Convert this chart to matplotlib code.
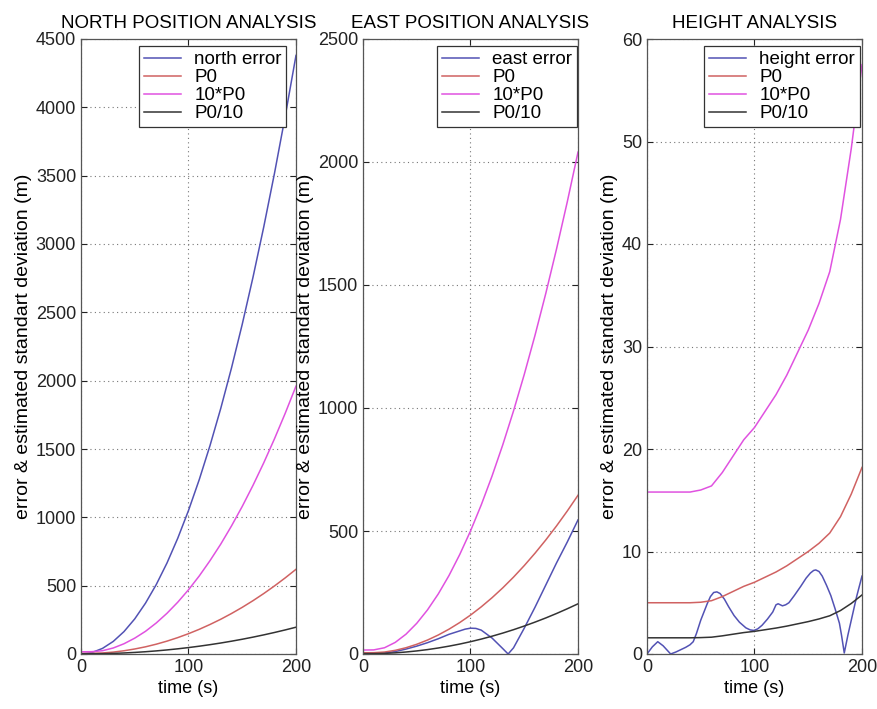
import numpy as np
import matplotlib
matplotlib.use("Agg")
import matplotlib.pyplot as plt

# time axis (s)
t = [0, 10, 20, 30, 40, 50, 60, 70, 80, 90, 100, 110, 120, 130, 140, 150, 160, 170, 180, 190, 200]

# north position
north_err = [0, 10, 41, 92, 164, 257, 372, 508, 666, 847, 1050, 1276, 1525, 1797, 2093, 2413, 2757, 3125, 3518, 3937, 4380]
north_p0 = [5.0, 5.3, 7.6, 13.9, 23.7, 36.7, 52.5, 71.8, 94.2, 119.9, 148.6, 180.6, 216.0, 254.3, 296.3, 341.5, 390.2, 442.4, 498.1, 557.2, 619.8]
north_10p0 = [16, 17, 24, 44, 75, 116, 166, 227, 298, 379, 470, 571, 683, 804, 937, 1080, 1234, 1399, 1575, 1762, 1960]
north_p0_10 = [1.6, 1.7, 2.4, 4.4, 7.5, 11.6, 16.6, 22.7, 29.8, 37.9, 47.0, 57.1, 68.3, 80.4, 93.7, 108.0, 123.4, 139.9, 157.5, 176.2, 196.0]

# east position
east_p0 = [5.1, 5.3, 8.0, 14.9, 25.5, 39.5, 56.7, 77.2, 100.9, 127.9, 158.1, 191.7, 228.6, 268.8, 312.4, 359.4, 409.7, 463.4, 520.5, 581.1, 645.2]
east_10p0 = [16, 16.7, 25.4, 47.2, 80.6, 124.8, 179.3, 244, 319, 404.5, 500, 606.2, 722.9, 850.1, 987.8, 1136.3, 1295.4, 1465.2, 1645.9, 1837.5, 2040]
east_p0_10 = [1.6, 1.7, 2.5, 4.7, 8.1, 12.5, 17.9, 24.4, 31.9, 40.4, 50.0, 60.6, 72.3, 85.0, 98.8, 113.7, 129.6, 146.5, 164.6, 183.8, 204.0]
t_east_err = [0, 10, 20, 30, 40, 50, 60, 70, 80, 90, 95, 100, 105, 110, 120, 130, 135, 140, 150, 160, 170, 180, 190, 200]
east_err = [0, 1, 4, 10, 20, 32, 46, 62, 80, 94, 101, 105, 104, 97, 65, 22, 0, 25, 105, 190, 280, 370, 455, 545]

# height
height_p0 = [5.0, 5.0, 5.0, 5.0, 5.0, 5.05, 5.2, 5.6, 6.1, 6.6, 7.0, 7.5, 8.0, 8.6, 9.3, 10.0, 10.8, 11.8, 13.4, 15.6, 18.2]
height_10p0 = [15.8, 15.8, 15.8, 15.8, 15.8, 16.0, 16.4, 17.7, 19.3, 20.9, 22.1, 23.7, 25.3, 27.2, 29.4, 31.6, 34.2, 37.3, 42.4, 49.3, 57.5]
height_p0_10 = [1.58, 1.58, 1.58, 1.58, 1.58, 1.6, 1.64, 1.77, 1.93, 2.09, 2.21, 2.37, 2.53, 2.72, 2.94, 3.16, 3.42, 3.73, 4.24, 4.93, 5.76]
t_height_err = [0, 5, 10, 15, 22, 27, 31, 36, 40, 43, 46, 50, 53, 56, 59, 62, 65, 68, 72, 76, 81, 86, 92, 96,
                99.5, 103, 107, 112, 117, 120, 122, 126, 129, 132, 137, 143, 148, 152, 155, 157, 160, 163,
                167, 171, 175, 179, 181, 183.5, 187, 191, 195, 200]
height_err = [0, 0.7, 1.2, 0.8, 0, 0.2, 0.4, 0.65, 0.9, 1.2, 2.0, 3.3, 4.1, 4.9, 5.6, 6.0, 6.06, 5.9, 5.35, 4.6,
              3.75, 3.1, 2.55, 2.35, 2.3, 2.45, 2.8, 3.4, 4.1, 4.8, 4.9, 4.7, 4.8, 5.0, 5.7, 6.6, 7.4, 7.9,
              8.15, 8.2, 8.05, 7.6, 6.7, 5.7, 4.4, 3.0, 1.8, 0.1, 1.9, 3.75, 5.6, 7.6]

titles = ["NORTH POSITION ANALYSIS", "EAST POSITION ANALYSIS", "HEIGHT ANALYSIS"]
err_names = ["north error", "east error", "height error"]
ymax = [4500, 2500, 60]
ystep = [500, 500, 10]

c_err = "#5252b4"
c_p0 = "#d06262"
c_10p0 = "#e052e0"
c_p0_10 = "#333333"

plt.rcParams["font.family"] = ["Liberation Sans", "DejaVu Sans"]

fig = plt.figure(figsize=(8.78, 7.09), dpi=100)
lefts = [81 / 878, 363 / 878, 647 / 878]
w = 215 / 878
b = 55 / 709
h = 615 / 709

panels = [
    (t, north_err, north_p0, north_10p0, north_p0_10),
    (t_east_err, east_err, east_p0, east_10p0, east_p0_10),
    (t_height_err, height_err, height_p0, height_10p0, height_p0_10),
]
legend_right = [0.955, 0.995, 0.99]

for i, (te, err, p0, p10, p_10) in enumerate(panels):
    ax = fig.add_axes([lefts[i], b, w, h])
    ax.plot(te, err, color=c_err, lw=1.1, label=err_names[i])
    ax.plot(t, p0, color=c_p0, lw=1.1, label="P0")
    ax.plot(t, p10, color=c_10p0, lw=1.1, label="10*P0")
    ax.plot(t, p_10, color=c_p0_10, lw=1.1, label="P0/10")
    ax.set_xlim(0, 200)
    ax.set_ylim(0, ymax[i])
    ax.set_xticks([0, 100, 200])
    ax.set_yticks(np.arange(0, ymax[i] + 1, ystep[i]))
    ax.grid(True, linestyle=(0, (1, 3)), color="#777777", linewidth=0.8)
    ax.tick_params(direction="in", top=True, right=True, length=4, labelsize=13, colors="#222222")
    for s in ax.spines.values():
        s.set_color("#555555")
        s.set_linewidth(0.9)
    ax.set_title(titles[i], fontsize=13.5, pad=8)
    ax.set_xlabel("time (s)", fontsize=13, labelpad=3)
    ax.set_ylabel("error & estimated standart deviation (m)", fontsize=14, labelpad=3)
    leg = ax.legend(loc="upper right", bbox_to_anchor=(legend_right[i], 0.988), fontsize=13.5,
                    fancybox=False, framealpha=1, edgecolor="#333333", borderpad=0.25,
                    labelspacing=0.05, handlelength=2.0, handletextpad=0.7, borderaxespad=0.0)
    leg.get_frame().set_linewidth(0.9)

fig.savefig("out.png", dpi=100)
